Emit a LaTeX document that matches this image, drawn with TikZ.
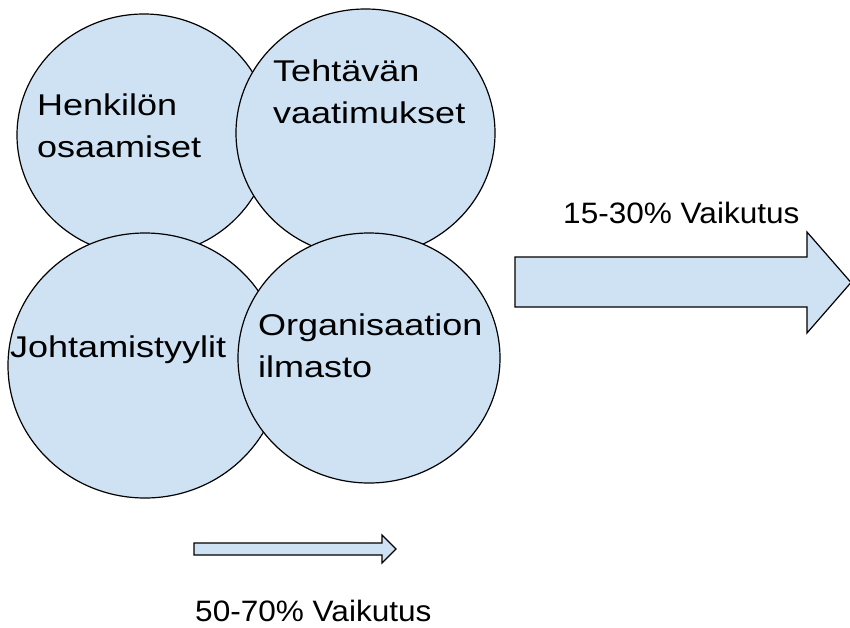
\documentclass[tikz,border=0pt]{standalone}
\usepackage{fontspec}
\setmainfont{Liberation Sans}
\newfontfamily\circfont[FakeStretch=1.2]{Liberation Sans}
\newfontfamily\labelfont[FakeStretch=1.07]{Liberation Sans}
\usetikzlibrary{shapes.geometric}
\definecolor{paleblue}{HTML}{CFE2F3}

\begin{document}
\begin{tikzpicture}[x=1pt, y=-1pt,
    blob/.style={ellipse, draw=black, fill=paleblue, line width=1.2pt, inner sep=0pt, outer sep=0pt},
    blobtext/.style={anchor=base west, inner sep=0pt, align=left,
        font=\circfont\fontsize{30}{42}\selectfont},
    arrowbody/.style={draw=black, fill=paleblue, line width=1.2pt, line join=miter},
    tag/.style={anchor=base west, inner sep=0pt, font=\labelfont\fontsize{29.5}{35}\selectfont}]
    \useasboundingbox (0,0) rectangle (850,627);
    \node [blob, minimum width=254pt, minimum height=242pt] (henkilo) at (144,135) {};
    \node [blob, minimum width=259pt, minimum height=248pt] (tehtava) at (365.5,133) {};
    \node [blob, minimum width=274pt, minimum height=265pt] (johtamis) at (145,365.5) {};
    \node [blob, minimum width=262pt, minimum height=250pt] (ilmasto) at (369,358) {};
    \node [blobtext] (henkilo text) at (37,157) {Henkilön\\osaamiset};
    \node [blobtext] (tehtava text) at (273,123) {Tehtävän\\vaatimukset};
    \node [blobtext] (johtamis text) at (10,357) {Johtamistyylit};
    \node [blobtext] (ilmasto text) at (258,377) {Organisaation\\ilmasto};
    \draw [arrowbody] (515,257) -- (807,257) -- (807,232) -- (851,282.5)
        -- (807,333) -- (807,307) -- (515,307) -- cycle;
    \node [tag] (big label) at (563,223) {15-30\% Vaikutus};
    \draw [arrowbody] (194,543) -- (382,543) -- (382,535) -- (396,549)
        -- (382,563) -- (382,555) -- (194,555) -- cycle;
    \node [tag] (small label) at (195,621) {50-70\% Vaikutus};
\end{tikzpicture}
\end{document}
